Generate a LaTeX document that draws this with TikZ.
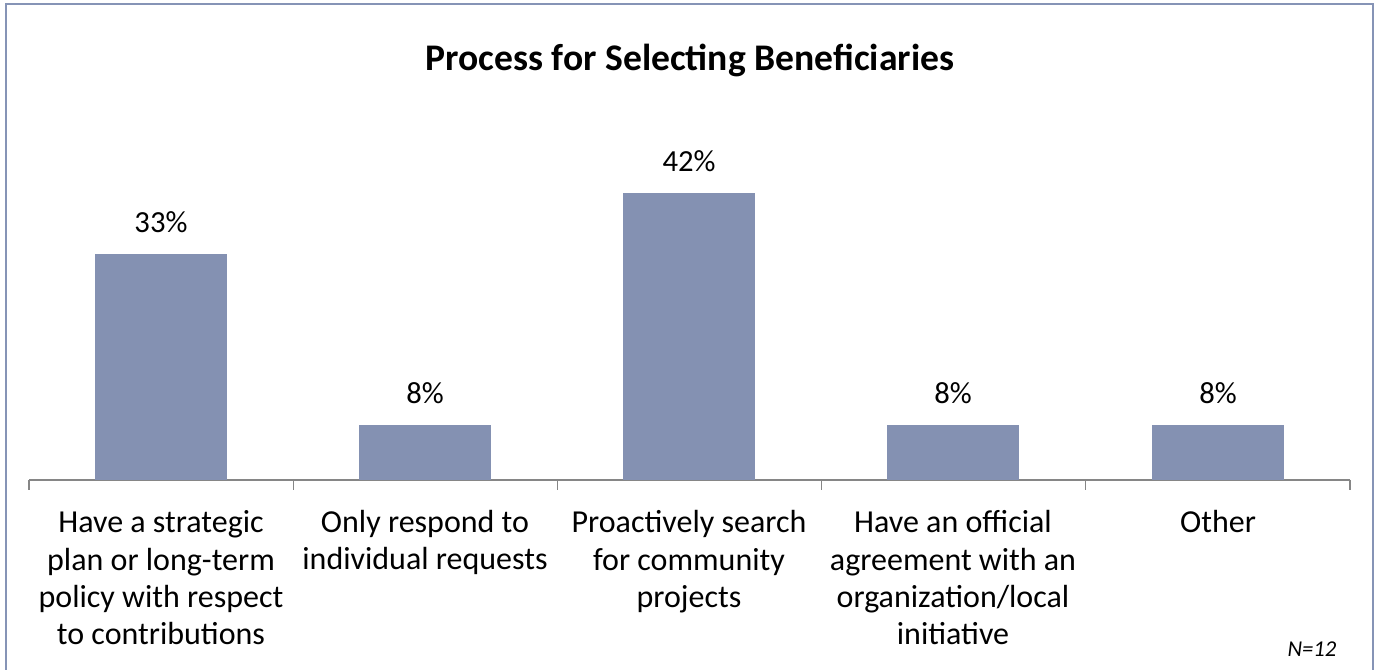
\documentclass[tikz,border=0pt]{standalone}
\usepackage{fontspec}
\setmainfont{Carlito}
\usepackage{tikz}
\usetikzlibrary{positioning}
\definecolor{barblue}{RGB}{132,145,178}
\definecolor{frameblue}{RGB}{134,148,182}
\definecolor{axisgray}{RGB}{134,134,134}

\begin{document}
\begin{tikzpicture}[x=0.75pt, y=0.75pt]
\tikzstyle{bar} = [fill=barblue, inner sep=0, minimum width=99pt, anchor=south]
\tikzstyle{pct} = [font=\fontsize{23}{27}\selectfont, inner sep=0]
\tikzstyle{cat} = [font=\fontsize{24}{28.1}\selectfont, align=center, anchor=base, inner sep=0]
\useasboundingbox (0,0) rectangle (1378,670);
\draw[frameblue, line width=1.5pt] (6,0) -- (6,666) -- (1373,666) -- (1373,0);

\node[font=\fontsize{28.2}{32}\selectfont\bfseries, anchor=base] (t) at (690,599) {Process for Selecting Beneficiaries};

% axis and ticks
\coordinate (o) at (29,190);
\coordinate (e) at (1350,190);
\draw[axisgray, line width=1pt] (o) -- (e);
\foreach \x in {29, 293.2, 557.4, 821.6, 1085.8, 1350}
  \draw[axisgray, line width=1pt] (\x,190) -- (\x,180);

% bars and values
\foreach \i/\v/\x in {1/33/161, 2/8/425, 3/42/689, 4/8/953, 5/8/1218}
{
  \node[bar, minimum height=\v*5.1225pt] (b\i) at (\x,190) {};
  \node[pct, above=15.75pt of b\i] (p\i) {\v\%};
}

% categories (base = last line, 37.5 per line)
\node[cat] (c1) at (161,25) {Have a strategic\\plan or long-term\\policy with respect\\to contributions};
\node[cat] (c2) at (425,100) {Only respond to\\individual requests};
\node[cat] (c3) at (689,62.5) {Proactively search\\for community\\projects};
\node[cat] (c4) at (953,25) {Have an official\\agreement with an\\organization/local\\initiative};
\node[cat] (c5) at (1218,137.5) {Other};

\node[font=\fontsize{17}{20}\selectfont\itshape, anchor=base] (n) at (1312,13) {N=12};
\end{tikzpicture}
\end{document}
